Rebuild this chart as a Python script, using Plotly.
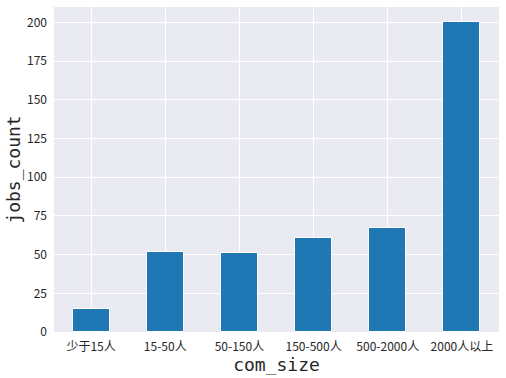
import plotly.graph_objects as go

categories = ["少于15人", "15-50人", "50-150人", "150-500人", "500-2000人", "2000人以上"]
jobs_count = [15, 52, 51, 61, 67, 200]
y_ticks = [0, 25, 50, 75, 100, 125, 150, 175, 200]

font_family = "Noto Sans CJK SC, DejaVu Sans, sans-serif"

fig = go.Figure(
    go.Bar(
        x=list(range(len(categories))),
        y=jobs_count,
        width=0.5,
        marker=dict(color="#1f77b4", line=dict(color="white", width=1)),
    )
)

fig.update_layout(
    width=506,
    height=378,
    margin=dict(l=54, r=7, t=7, b=46),
    paper_bgcolor="white",
    plot_bgcolor="#EAEAF2",
    font=dict(family=font_family, size=12, color="#262626"),
    showlegend=False,
    bargap=0,
)
fig.update_xaxes(
    automargin=False,
    tickmode="array",
    tickvals=list(range(len(categories))),
    ticktext=categories,
    range=[-0.5, len(categories) - 0.5],
    showgrid=True,
    gridcolor="white",
    gridwidth=1,
    zeroline=False,
    showline=False,
    ticks="",
    ticklabelstandoff=6,
    title=dict(text="com_size", font=dict(size=18, family="DejaVu Sans Mono, monospace"), standoff=1),
)
fig.update_yaxes(
    automargin=False,
    tickmode="array",
    tickvals=y_ticks,
    range=[0, 210],
    showgrid=True,
    gridcolor="white",
    gridwidth=1,
    zeroline=False,
    showline=False,
    ticks="",
    ticklabelstandoff=6,
    title=dict(text="jobs_count", font=dict(size=18, family="DejaVu Sans Mono, monospace"), standoff=1),
)

fig.write_html(
    "out.html",
    config={"displayModeBar": False},
    post_script="document.body.style.margin='0';document.body.style.overflow='hidden';",
)
